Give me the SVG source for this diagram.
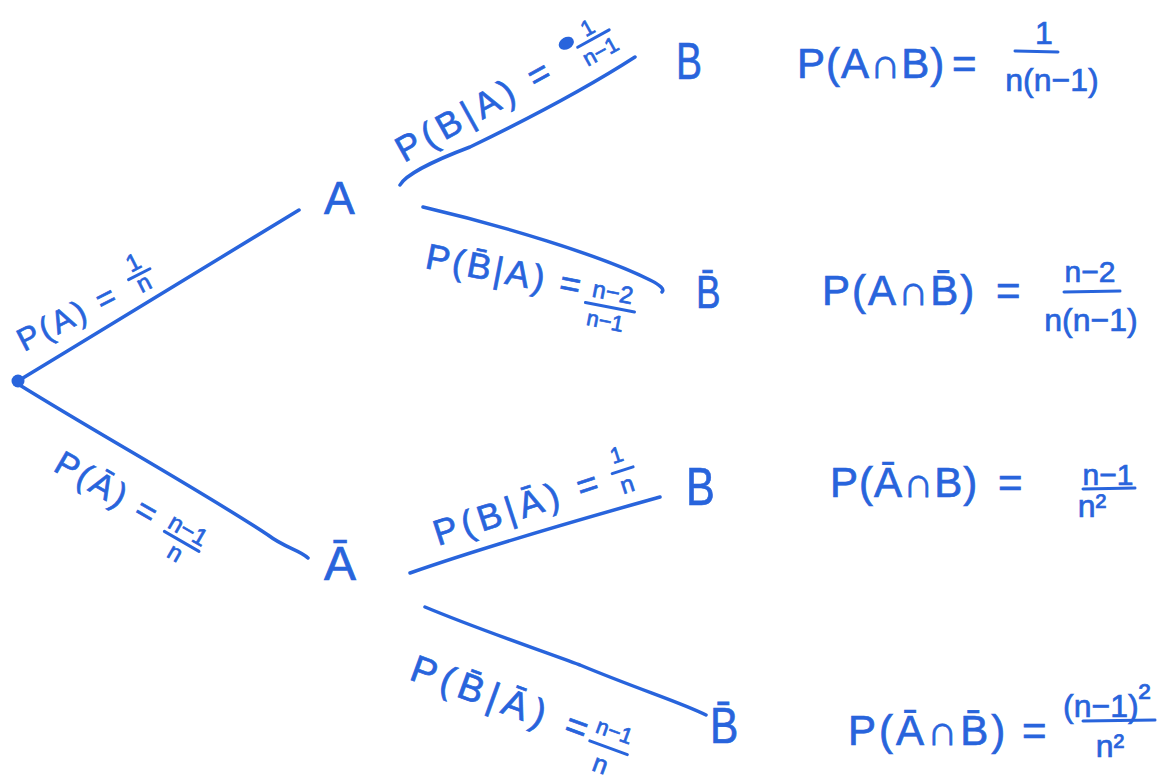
<svg xmlns="http://www.w3.org/2000/svg" width="1172" height="779" viewBox="0 0 1172 779">
<style>
.t{font-family:"Liberation Sans","DejaVu Sans",sans-serif;fill:#2864dc;stroke:#2864dc;stroke-width:0.7}
.m{text-anchor:middle}
.e{fill:none;stroke:#2864dc;stroke-width:3.5;stroke-linecap:round;stroke-linejoin:round}
.b{fill:none;stroke:#2864dc;stroke-width:3;stroke-linecap:round}
</style>
<rect width="1172" height="779" fill="#ffffff"/>
<g id="connectors">
  <path class="e" d="M18,381 C110,325 200,270 299,210"/>
  <path class="e" d="M18,384 C100,435 200,490 268,535 C285,548 300,550 308,558"/>
  <path class="e" d="M400,185 C405,176 430,162 470,147 C530,118 590,86 635,57"/>
  <path class="e" d="M423,207 C500,225 600,255 650,280 Q666,288 662,292"/>
  <path class="e" d="M410,573 C470,552 560,525 660,497"/>
  <path class="e" d="M425,607 C480,630 540,650 580,665 C640,690 680,702 706,715"/>
  <g id="label-A" transform="translate(24,352) rotate(-27)">
    <text class="t" x="0" y="0" font-size="32" letter-spacing="3">P(A) =</text>
    <text class="t m" x="138" y="-22" font-size="24">1</text>
    <line class="b" x1="126" y1="-17" x2="150" y2="-17"/>
    <text class="t m" x="138" y="1" font-size="24">n</text>
  </g>
  <g id="label-Abar" transform="translate(52,470) rotate(30)">
    <text class="t" x="0" y="0" font-size="34" letter-spacing="3">P(Ā) =</text>
    <text class="t m" x="148" y="-8" font-size="24">n−1</text>
    <line class="b" x1="128" y1="-3" x2="168" y2="-3"/>
    <text class="t m" x="148" y="18" font-size="24">n</text>
  </g>
  <g id="label-B-A" transform="translate(404,163) rotate(-29)">
    <text class="t" x="0" y="0" font-size="36" letter-spacing="5">P(B|A) =</text>
    <ellipse cx="200" cy="-26" rx="8" ry="6" fill="#2864dc"/>
    <text class="t m" x="226" y="-22" font-size="22">1</text>
    <line class="b" x1="208" y1="-17" x2="244" y2="-17"/>
    <text class="t m" x="226" y="5" font-size="22">n−1</text>
  </g>
  <g id="label-Bbar-A" transform="translate(424,268) rotate(11)">
    <text class="t" x="0" y="0" font-size="36" letter-spacing="3">P(B̄|A) =</text>
    <text class="t m" x="190" y="-4" font-size="24">n−2</text>
    <line class="b" x1="165" y1="3" x2="215" y2="3"/>
    <text class="t m" x="188" y="25" font-size="22">n−1</text>
  </g>
  <g id="label-B-Abar" transform="translate(438,546) rotate(-18)">
    <text class="t" x="0" y="0" font-size="36" letter-spacing="5">P(B|Ā) =</text>
    <text class="t m" x="198" y="-24" font-size="22">1</text>
    <line class="b" x1="188" y1="-15" x2="210" y2="-15"/>
    <text class="t m" x="199" y="8" font-size="24">n</text>
  </g>
  <g id="label-Bbar-Abar" transform="translate(408,679) rotate(20)">
    <text class="t" x="0" y="0" font-size="38" letter-spacing="6">P(B̄|Ā) =</text>
    <text class="t m" x="212" y="-14" font-size="22">n−1</text>
    <line class="b" x1="192" y1="-4" x2="232" y2="-4"/>
    <text class="t m" x="210" y="23" font-size="26">n</text>
  </g>
</g>
<g id="root"><circle cx="18" cy="381" r="6.5" fill="#2864dc"/></g>
<g id="node-A"><text class="t" x="324" y="214" font-size="46">A</text></g>
<g id="node-Abar"><text class="t" x="324" y="580" font-size="48">Ā</text></g>
<g id="node-B1"><text class="t" x="676" y="79" font-size="52" transform="translate(676,79) scale(0.75,1) translate(-676,-79)">B</text></g>
<g id="node-Bbar1"><text class="t" x="696" y="308" font-size="46" transform="translate(696,308) scale(0.8,1) translate(-696,-308)">B̄</text></g>
<g id="node-B2"><text class="t" x="686" y="505" font-size="54" transform="translate(686,505) scale(0.8,1) translate(-686,-505)">B</text></g>
<g id="node-Bbar2"><text class="t" x="710" y="743" font-size="50" transform="translate(710,743) scale(0.85,1) translate(-710,-743)">B̄</text></g>
<g id="result-AB">
  <text class="t" x="797" y="78" font-size="42" letter-spacing="1">P(A∩B)<tspan x="952">=</tspan></text>
  <text class="t m" x="1044" y="44" font-size="32">1</text>
  <line class="b" x1="1015" y1="51" x2="1058" y2="52"/>
  <text class="t m" x="1052" y="91" font-size="32">n(n−1)</text>
</g>
<g id="result-ABbar">
  <text class="t" x="822" y="305" font-size="42" letter-spacing="2">P(A∩B̄)<tspan x="996">=</tspan></text>
  <text class="t m" x="1090" y="282" font-size="30">n−2</text>
  <line class="b" x1="1064" y1="292" x2="1120" y2="291"/>
  <text class="t m" x="1091" y="331" font-size="32">n(n−1)</text>
</g>
<g id="result-AbarB">
  <text class="t" x="830" y="497" font-size="42" letter-spacing="1">P(Ā∩B)<tspan x="998">=</tspan></text>
  <text class="t m" x="1108" y="485" font-size="30">n−1</text>
  <line class="b" x1="1083" y1="489" x2="1135" y2="488"/>
  <text class="t m" x="1092" y="517" font-size="32">n²</text>
</g>
<g id="result-AbarBbar">
  <text class="t" x="848" y="745" font-size="42" letter-spacing="3">P(Ā∩B̄)<tspan x="1022">=</tspan></text>
  <text class="t" x="1063" y="717" font-size="32">(n−1)<tspan font-size="36" dy="-8">²</tspan></text>
  <line class="b" x1="1083" y1="721" x2="1155" y2="720"/>
  <text class="t m" x="1110" y="757" font-size="32">n²</text>
</g>
</svg>
